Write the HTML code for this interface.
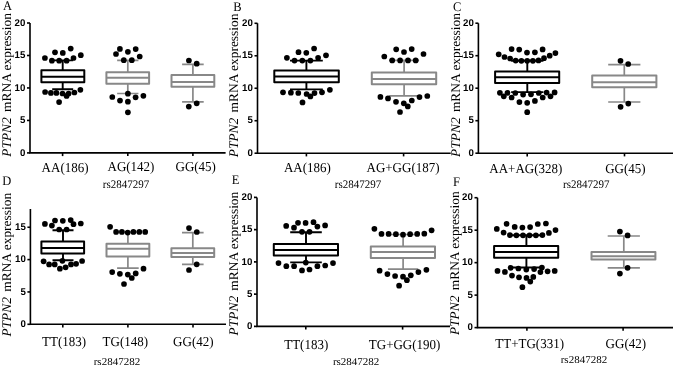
<!DOCTYPE html>
<html><head><meta charset="utf-8"><title>PTPN2 mRNA expression box plots</title>
<style>
html,body{margin:0;padding:0;background:#fff;}
body{width:675px;height:367px;overflow:hidden;}
svg{display:block;will-change:transform;text-rendering:geometricPrecision;}
.ax{stroke:#000;stroke-width:1.6;fill:none;}
.bk rect,.bk path{stroke:#000;stroke-width:2;fill:none;stroke-linejoin:round;}
.gy rect,.gy path{stroke:#888888;stroke-width:2;fill:none;stroke-linejoin:round;}
circle{fill:#000;}
.gy .wk{stroke-width:1.7;}
.bk .wk{stroke-width:1.9;}
.tk{font-family:"Liberation Sans", sans-serif;font-weight:bold;font-size:9.7px;text-anchor:end;fill:#000;}
.xl{font-family:"Liberation Serif", serif;font-size:13px;fill:#000;}
.rs{font-family:"Liberation Serif", serif;font-size:11px;fill:#000;}
.lt{font-family:"Liberation Serif", serif;font-size:12.5px;fill:#000;}
.yl{font-family:"Liberation Serif", serif;font-size:13.2px;fill:#000;text-anchor:middle;}
</style></head>
<body><svg width="675" height="367" viewBox="0 0 675 367">
<rect width="675" height="367" fill="#fff"/>
<g><path d="M30 23V152.9H225.6" class="ax"/><path d="M27 152.9H30" class="ax"/><text x="25.4" y="155.5" class="tk">0</text><path d="M27 120.43H30" class="ax"/><text x="25.4" y="123.03" class="tk">5</text><path d="M27 87.95H30" class="ax"/><text x="25.4" y="90.55" class="tk">10</text><path d="M27 55.48H30" class="ax"/><text x="25.4" y="58.08" class="tk">15</text><path d="M27 23H30" class="ax"/><text x="25.4" y="25.6" class="tk">20</text><path d="M62.6 152.9V156.1" class="ax"/><path d="M127.8 152.9V156.1" class="ax"/><path d="M192.9 152.9V156.1" class="ax"/><g class="bk"><rect x="41.4" y="70.3" width="42.9" height="12"/><path d="M41.4 76.7H84.3"/><path class="wk" d="M62.7 70.3V60.4M52.2 60.4H73.2M62.7 82.3V89.3M52.2 89.3H73.2"/></g><g class="gy"><rect x="106.4" y="72.3" width="42.7" height="11.5"/><path d="M106.4 77.8H149.1"/><path class="wk" d="M127.8 72.3V60.4M117.15 60.4H138.45M127.8 83.8V93.5M117.15 93.5H138.45"/></g><g class="gy"><rect x="171.5" y="75" width="42.8" height="11.8"/><path d="M171.5 82.1H214.3"/><path class="wk" d="M192.9 75V64.3M182.1 64.3H203.7M192.9 86.8V101.9M182.1 101.9H203.7"/></g><circle cx="44.9" cy="58" r="2.85"/><circle cx="55" cy="52.3" r="2.85"/><circle cx="62.8" cy="52.9" r="2.85"/><circle cx="70.7" cy="48.6" r="2.85"/><circle cx="80.8" cy="55.2" r="2.85"/><circle cx="51.9" cy="60.7" r="2.85"/><circle cx="59.2" cy="60.7" r="2.85"/><circle cx="66.6" cy="60.7" r="2.85"/><circle cx="73.5" cy="58" r="2.85"/><circle cx="45.1" cy="92" r="2.85"/><circle cx="50.9" cy="92.9" r="2.85"/><circle cx="56.4" cy="92.9" r="2.85"/><circle cx="62.5" cy="93.5" r="2.85"/><circle cx="66.6" cy="95.9" r="2.85"/><circle cx="68.6" cy="93.5" r="2.85"/><circle cx="74.4" cy="92.5" r="2.85"/><circle cx="80.4" cy="89.8" r="2.85"/><circle cx="59.1" cy="102.1" r="2.85"/><circle cx="119.9" cy="48.9" r="2.85"/><circle cx="135.7" cy="49.1" r="2.85"/><circle cx="127.9" cy="51.8" r="2.85"/><circle cx="116" cy="54" r="2.85"/><circle cx="139.7" cy="56.5" r="2.85"/><circle cx="123.8" cy="60.2" r="2.85"/><circle cx="131.8" cy="60.2" r="2.85"/><circle cx="127.9" cy="93.7" r="2.85"/><circle cx="112.3" cy="97" r="2.85"/><circle cx="120" cy="100.6" r="2.85"/><circle cx="127.9" cy="101.7" r="2.85"/><circle cx="135.6" cy="97.3" r="2.85"/><circle cx="143.4" cy="95.8" r="2.85"/><circle cx="127.9" cy="112.3" r="2.85"/><circle cx="188.9" cy="60.5" r="2.85"/><circle cx="196.7" cy="63.7" r="2.85"/><circle cx="196.7" cy="103.3" r="2.85"/><circle cx="188.8" cy="106.6" r="2.85"/><text transform="translate(41.6 171.5) scale(1 1.05)" class="xl">AA(186)</text><text transform="translate(107.5 171) scale(1 1.05)" class="xl">AG(142)</text><text transform="translate(175.5 171) scale(1 1.05)" class="xl">GG(45)</text><text transform="translate(102.8 187.8) scale(1 1.05)" class="rs">rs2847297</text><text transform="translate(3 9.9) scale(1 1.05)" class="lt">A</text><text transform="translate(10.5 84.9) scale(1 1.02) rotate(-90)" class="yl"><tspan font-style="italic">PTPN2</tspan><tspan dx="1.8"> mRNA expression</tspan></text></g>
<g><path d="M257.5 23.3V153.2H450.7" class="ax"/><path d="M254.5 153.2H257.5" class="ax"/><text x="252.9" y="155.8" class="tk">0</text><path d="M254.5 120.72H257.5" class="ax"/><text x="252.9" y="123.32" class="tk">5</text><path d="M254.5 88.25H257.5" class="ax"/><text x="252.9" y="90.85" class="tk">10</text><path d="M254.5 55.77H257.5" class="ax"/><text x="252.9" y="58.37" class="tk">15</text><path d="M254.5 23.3H257.5" class="ax"/><text x="252.9" y="25.9" class="tk">20</text><path d="M306.4 153.2V156.4" class="ax"/><path d="M403.6 153.2V156.4" class="ax"/><g class="bk"><rect x="274.3" y="70.5" width="64.5" height="11.7"/><path d="M274.3 76.6H338.8"/><path class="wk" d="M306.4 70.5V60.6M290 60.6H322.8M306.4 82.2V89.4M290 89.4H322.8"/></g><g class="gy"><rect x="371.8" y="72.6" width="64.4" height="11.6"/><path d="M371.8 78.9H436.2"/><path class="wk" d="M404.1 72.6V60.4M389.1 60.4H419.1M404.1 84.2V95.8M389.1 95.8H419.1"/></g><circle cx="286.9" cy="57.8" r="2.85"/><circle cx="298.5" cy="52.2" r="2.85"/><circle cx="306.3" cy="52.8" r="2.85"/><circle cx="314.1" cy="48.5" r="2.85"/><circle cx="326" cy="55.3" r="2.85"/><circle cx="294.5" cy="60.6" r="2.85"/><circle cx="302.3" cy="60.6" r="2.85"/><circle cx="310.4" cy="60.6" r="2.85"/><circle cx="318.1" cy="57.8" r="2.85"/><circle cx="283" cy="92.3" r="2.85"/><circle cx="290.9" cy="92.7" r="2.85"/><circle cx="298.3" cy="93" r="2.85"/><circle cx="306.6" cy="94" r="2.85"/><circle cx="310.4" cy="96.4" r="2.85"/><circle cx="314.5" cy="93.1" r="2.85"/><circle cx="322" cy="92.3" r="2.85"/><circle cx="329.9" cy="89.8" r="2.85"/><circle cx="302.5" cy="102.4" r="2.85"/><circle cx="384.3" cy="56.5" r="2.85"/><circle cx="396.2" cy="49.3" r="2.85"/><circle cx="404" cy="52" r="2.85"/><circle cx="411.7" cy="49.1" r="2.85"/><circle cx="423.5" cy="54" r="2.85"/><circle cx="392.2" cy="60.4" r="2.85"/><circle cx="400.1" cy="60.4" r="2.85"/><circle cx="408" cy="60.4" r="2.85"/><circle cx="415.7" cy="60.4" r="2.85"/><circle cx="380.4" cy="96.9" r="2.85"/><circle cx="388" cy="98.4" r="2.85"/><circle cx="396" cy="101.8" r="2.85"/><circle cx="403.8" cy="103.3" r="2.85"/><circle cx="407.8" cy="106.4" r="2.85"/><circle cx="411.8" cy="100.5" r="2.85"/><circle cx="419.5" cy="97.1" r="2.85"/><circle cx="427.3" cy="96" r="2.85"/><circle cx="400" cy="112" r="2.85"/><text transform="translate(283.9 171.5) scale(1 1.05)" class="xl">AA(186)</text><text transform="translate(366.5 171.5) scale(1 1.05)" class="xl">AG+GG(187)</text><text transform="translate(334.8 187.5) scale(1 1.05)" class="rs">rs2847297</text><text transform="translate(233.15 10.7) scale(1 1.05)" class="lt">B</text><text transform="translate(238.3 85.4) scale(1 1.02) rotate(-90)" class="yl"><tspan font-style="italic">PTPN2</tspan><tspan dx="1.8"> mRNA expression</tspan></text></g>
<g><path d="M478.4 23.2V153.2H673" class="ax"/><path d="M475.4 153.2H478.4" class="ax"/><text x="473.8" y="155.8" class="tk">0</text><path d="M475.4 120.7H478.4" class="ax"/><text x="473.8" y="123.3" class="tk">5</text><path d="M475.4 88.2H478.4" class="ax"/><text x="473.8" y="90.8" class="tk">10</text><path d="M475.4 55.7H478.4" class="ax"/><text x="473.8" y="58.3" class="tk">15</text><path d="M475.4 23.2H478.4" class="ax"/><text x="473.8" y="25.8" class="tk">20</text><path d="M527.2 153.2V156.4" class="ax"/><path d="M624.5 153.2V156.4" class="ax"/><g class="bk"><rect x="495.1" y="71.4" width="64.1" height="11.5"/><path d="M495.1 77.3H559.2"/><path class="wk" d="M527.3 71.4V60.8M511.15 60.8H543.45M527.3 82.9V92.1M511.15 92.1H543.45"/></g><g class="gy"><rect x="592.2" y="75.6" width="64.2" height="11.7"/><path d="M592.2 82.2H656.4"/><path class="wk" d="M624.3 75.6V64.7M608.2 64.7H640.4M624.3 87.3V102M608.2 102H640.4"/></g><circle cx="511.6" cy="49.1" r="2.85"/><circle cx="519.2" cy="49.6" r="2.85"/><circle cx="527" cy="52.6" r="2.85"/><circle cx="534.9" cy="52.3" r="2.85"/><circle cx="542.6" cy="49.4" r="2.85"/><circle cx="498.7" cy="54.3" r="2.85"/><circle cx="504.5" cy="57" r="2.85"/><circle cx="510.1" cy="58.5" r="2.85"/><circle cx="515.7" cy="60.6" r="2.85"/><circle cx="521.4" cy="60.8" r="2.85"/><circle cx="527.2" cy="60.8" r="2.85"/><circle cx="532.9" cy="60.8" r="2.85"/><circle cx="538.5" cy="60.4" r="2.85"/><circle cx="544" cy="58.2" r="2.85"/><circle cx="549.7" cy="55.7" r="2.85"/><circle cx="555.4" cy="53.1" r="2.85"/><circle cx="499.9" cy="92.8" r="2.85"/><circle cx="507.5" cy="92.8" r="2.85"/><circle cx="515.3" cy="93" r="2.85"/><circle cx="523.1" cy="94.6" r="2.85"/><circle cx="531" cy="94.3" r="2.85"/><circle cx="538.8" cy="93" r="2.85"/><circle cx="546.6" cy="92.6" r="2.85"/><circle cx="554.6" cy="92.4" r="2.85"/><circle cx="503.8" cy="96.3" r="2.85"/><circle cx="511.6" cy="97.5" r="2.85"/><circle cx="542.7" cy="97.5" r="2.85"/><circle cx="550.5" cy="96.3" r="2.85"/><circle cx="519.4" cy="102.1" r="2.85"/><circle cx="527.2" cy="102.8" r="2.85"/><circle cx="534.9" cy="100.9" r="2.85"/><circle cx="527.2" cy="112.2" r="2.85"/><circle cx="620.5" cy="60.8" r="2.85"/><circle cx="628.2" cy="64" r="2.85"/><circle cx="628.3" cy="103.6" r="2.85"/><circle cx="620.6" cy="106.8" r="2.85"/><text transform="translate(489.3 172.6) scale(1 1.05)" class="xl">AA+AG(328)</text><text transform="translate(605.2 173) scale(1 1.05)" class="xl">GG(45)</text><text transform="translate(563 188.2) scale(1 1.05)" class="rs">rs2847297</text><text transform="translate(452.95 10.55) scale(1 1.05)" class="lt">C</text><text transform="translate(460.3 85) scale(1 1.02) rotate(-90)" class="yl"><tspan font-style="italic">PTPN2</tspan><tspan dx="1.8"> mRNA expression</tspan></text></g>
<g><path d="M30.4 208.9V324.3H226" class="ax"/><path d="M27.4 324.3H30.4" class="ax"/><text x="25.8" y="326.9" class="tk">0</text><path d="M27.4 291.95H30.4" class="ax"/><text x="25.8" y="294.55" class="tk">5</text><path d="M27.4 259.6H30.4" class="ax"/><text x="25.8" y="262.2" class="tk">10</text><path d="M27.4 227.25H30.4" class="ax"/><text x="25.8" y="229.85" class="tk">15</text><path d="M62.8 324.3V327.5" class="ax"/><path d="M127.9 324.3V327.5" class="ax"/><path d="M193 324.3V327.5" class="ax"/><g class="bk"><rect x="41.4" y="241.6" width="42.7" height="11.8"/><path d="M41.4 248H84.1"/><path class="wk" d="M63 241.6V230.2M52.5 230.2H73.5M63 253.4V260.3M52.5 260.3H73.5"/></g><g class="gy"><rect x="106.5" y="243.7" width="42.8" height="12.8"/><path d="M106.5 248.7H149.3"/><path class="wk" d="M127.9 243.7V232M117.1 232H138.7M127.9 256.5V268.1M117.1 268.1H138.7"/></g><g class="gy"><rect x="171.4" y="248.2" width="42.8" height="8.7"/><path d="M171.4 253H214.2"/><path class="wk" d="M192.8 248.2V232.7M182 232.7H203.6M192.8 256.9V264.3M182 264.3H203.6"/></g><circle cx="44.9" cy="223.9" r="2.85"/><circle cx="51.9" cy="225.6" r="2.85"/><circle cx="55" cy="220.5" r="2.85"/><circle cx="62.8" cy="220.8" r="2.85"/><circle cx="70.7" cy="220.1" r="2.85"/><circle cx="73.5" cy="224.2" r="2.85"/><circle cx="80.8" cy="223.5" r="2.85"/><circle cx="59.2" cy="229.5" r="2.85"/><circle cx="66.6" cy="229.5" r="2.85"/><circle cx="43.6" cy="261.3" r="2.85"/><circle cx="49.1" cy="264.4" r="2.85"/><circle cx="54.7" cy="264.4" r="2.85"/><circle cx="62.4" cy="260.8" r="2.85"/><circle cx="59.9" cy="268.7" r="2.85"/><circle cx="65.6" cy="267.3" r="2.85"/><circle cx="71" cy="264.4" r="2.85"/><circle cx="76.1" cy="263.8" r="2.85"/><circle cx="82.1" cy="261" r="2.85"/><circle cx="110.1" cy="226.8" r="2.85"/><circle cx="116.1" cy="231.9" r="2.85"/><circle cx="121.9" cy="231.9" r="2.85"/><circle cx="127.7" cy="232.6" r="2.85"/><circle cx="133.4" cy="231.9" r="2.85"/><circle cx="139.3" cy="231.9" r="2.85"/><circle cx="145.2" cy="231.9" r="2.85"/><circle cx="112.2" cy="272.1" r="2.85"/><circle cx="119.9" cy="273.8" r="2.85"/><circle cx="127.8" cy="274.6" r="2.85"/><circle cx="131.8" cy="278" r="2.85"/><circle cx="135.7" cy="273.4" r="2.85"/><circle cx="143.5" cy="268.7" r="2.85"/><circle cx="124" cy="284" r="2.85"/><circle cx="189" cy="228.1" r="2.85"/><circle cx="196.8" cy="232" r="2.85"/><circle cx="196.7" cy="264.3" r="2.85"/><circle cx="189" cy="270" r="2.85"/><text transform="translate(42 346.3) scale(1 1.05)" class="xl">TT(183)</text><text transform="translate(102.6 346.3) scale(1 1.05)" class="xl">TG(148)</text><text transform="translate(173.1 346.3) scale(1 1.05)" class="xl">GG(42)</text><text transform="translate(93.7 365.4) scale(1 0.95)" class="rs">rs2847282</text><text transform="translate(2.2 185.45) scale(1 1.05)" class="lt">D</text><text transform="translate(10.9 264.7) scale(1 1.02) rotate(-90)" class="yl"><tspan font-style="italic">PTPN2</tspan><tspan dx="1.8"> mRNA expression</tspan></text></g>
<g><path d="M257 197.4V326.4H450" class="ax"/><path d="M254 326.4H257" class="ax"/><text x="252.4" y="329" class="tk">0</text><path d="M254 294.15H257" class="ax"/><text x="252.4" y="296.75" class="tk">5</text><path d="M254 261.9H257" class="ax"/><text x="252.4" y="264.5" class="tk">10</text><path d="M254 229.65H257" class="ax"/><text x="252.4" y="232.25" class="tk">15</text><path d="M254 197.4H257" class="ax"/><text x="252.4" y="200" class="tk">20</text><path d="M305.8 326.4V329.6" class="ax"/><path d="M402.6 326.4V329.6" class="ax"/><g class="bk"><rect x="273.8" y="244.1" width="64.2" height="11.5"/><path d="M273.8 250.1H338"/><path class="wk" d="M306 244.1V232.3M290.2 232.3H321.8M306 255.6V262.4M290.2 262.4H321.8"/></g><g class="gy"><rect x="370.8" y="246.4" width="64.2" height="11.6"/><path d="M370.8 252H435"/><path class="wk" d="M403.1 246.4V234.5M387.95 234.5H418.25M403.1 258V269.2M387.95 269.2H418.25"/></g><circle cx="286.2" cy="225.9" r="2.85"/><circle cx="294" cy="227.7" r="2.85"/><circle cx="298" cy="222.8" r="2.85"/><circle cx="305.6" cy="222.9" r="2.85"/><circle cx="313.5" cy="222.2" r="2.85"/><circle cx="317.4" cy="226.6" r="2.85"/><circle cx="325.1" cy="225.4" r="2.85"/><circle cx="302" cy="231.8" r="2.85"/><circle cx="309.5" cy="231.8" r="2.85"/><circle cx="278.5" cy="263.1" r="2.85"/><circle cx="286.3" cy="266.2" r="2.85"/><circle cx="294.1" cy="266.2" r="2.85"/><circle cx="305.8" cy="262.6" r="2.85"/><circle cx="302" cy="270.4" r="2.85"/><circle cx="309.5" cy="269.5" r="2.85"/><circle cx="317.4" cy="266.2" r="2.85"/><circle cx="325.2" cy="265.5" r="2.85"/><circle cx="333" cy="263.1" r="2.85"/><circle cx="374.4" cy="228.8" r="2.85"/><circle cx="381.5" cy="233.9" r="2.85"/><circle cx="388.6" cy="233.9" r="2.85"/><circle cx="395.9" cy="234.2" r="2.85"/><circle cx="403" cy="234.7" r="2.85"/><circle cx="410.1" cy="234.2" r="2.85"/><circle cx="417.2" cy="233.9" r="2.85"/><circle cx="424.3" cy="233.7" r="2.85"/><circle cx="431.6" cy="230.3" r="2.85"/><circle cx="379.6" cy="270.7" r="2.85"/><circle cx="387.4" cy="274.1" r="2.85"/><circle cx="395.1" cy="276" r="2.85"/><circle cx="403" cy="276.7" r="2.85"/><circle cx="406.9" cy="280.2" r="2.85"/><circle cx="410.8" cy="275.3" r="2.85"/><circle cx="418.4" cy="272.1" r="2.85"/><circle cx="426.4" cy="269.8" r="2.85"/><circle cx="399.1" cy="285.7" r="2.85"/><text transform="translate(284.2 348.9) scale(1 1.05)" class="xl">TT(183)</text><text transform="translate(368.8 348.9) scale(1 1.05)" class="xl">TG+GG(190)</text><text transform="translate(332.9 365.2) scale(1 0.95)" class="rs">rs2847282</text><text transform="translate(231.75 184.45) scale(1 1.05)" class="lt">E</text><text transform="translate(238.4 263.6) scale(1 1.02) rotate(-90)" class="yl"><tspan font-style="italic">PTPN2</tspan><tspan dx="1.8"> mRNA expression</tspan></text></g>
<g><path d="M477.5 197.7V327.6H673" class="ax"/><path d="M474.5 327.6H477.5" class="ax"/><text x="472.9" y="330.2" class="tk">0</text><path d="M474.5 295.12H477.5" class="ax"/><text x="472.9" y="297.73" class="tk">5</text><path d="M474.5 262.65H477.5" class="ax"/><text x="472.9" y="265.25" class="tk">10</text><path d="M474.5 230.18H477.5" class="ax"/><text x="472.9" y="232.78" class="tk">15</text><path d="M474.5 197.7H477.5" class="ax"/><text x="472.9" y="200.3" class="tk">20</text><path d="M526.9 327.6V330.8" class="ax"/><path d="M623.1 327.6V330.8" class="ax"/><g class="bk"><rect x="494.1" y="246.1" width="64.1" height="11.7"/><path d="M494.1 252H558.2"/><path class="wk" d="M526.4 246.1V235.3M510.4 235.3H542.4M526.4 257.8V267.5M510.4 267.5H542.4"/></g><g class="gy"><rect x="591.5" y="252" width="63.9" height="7.6"/><path d="M591.5 256.3H655.4"/><path class="wk" d="M623.8 252V236M607.7 236H639.9M623.8 259.6V267.8M607.7 267.8H639.9"/></g><circle cx="506.6" cy="223.8" r="2.85"/><circle cx="514.7" cy="226.9" r="2.85"/><circle cx="522.4" cy="227.6" r="2.85"/><circle cx="530.1" cy="227.1" r="2.85"/><circle cx="537.8" cy="224" r="2.85"/><circle cx="545.9" cy="223.5" r="2.85"/><circle cx="496.8" cy="228.9" r="2.85"/><circle cx="503.6" cy="232.6" r="2.85"/><circle cx="509.9" cy="235.1" r="2.85"/><circle cx="516.4" cy="235.3" r="2.85"/><circle cx="523" cy="235.3" r="2.85"/><circle cx="529.5" cy="235.3" r="2.85"/><circle cx="535.9" cy="235.3" r="2.85"/><circle cx="542.4" cy="235.1" r="2.85"/><circle cx="548.9" cy="232.9" r="2.85"/><circle cx="555.5" cy="230.1" r="2.85"/><circle cx="497.5" cy="270.9" r="2.85"/><circle cx="504.9" cy="271.9" r="2.85"/><circle cx="510.6" cy="267.8" r="2.85"/><circle cx="518.4" cy="268.5" r="2.85"/><circle cx="526.3" cy="269.6" r="2.85"/><circle cx="534.1" cy="269.1" r="2.85"/><circle cx="541.9" cy="267.5" r="2.85"/><circle cx="540.4" cy="272.1" r="2.85"/><circle cx="547.6" cy="271.3" r="2.85"/><circle cx="554.7" cy="270.9" r="2.85"/><circle cx="512" cy="275.6" r="2.85"/><circle cx="519" cy="277.3" r="2.85"/><circle cx="526.5" cy="277.9" r="2.85"/><circle cx="533.3" cy="276.9" r="2.85"/><circle cx="530.3" cy="281.6" r="2.85"/><circle cx="522.4" cy="287.2" r="2.85"/><circle cx="619.9" cy="231.6" r="2.85"/><circle cx="627.6" cy="235.4" r="2.85"/><circle cx="627.6" cy="267.8" r="2.85"/><circle cx="619.9" cy="273.6" r="2.85"/><text transform="translate(495.3 348.2) scale(1 1.05)" class="xl">TT+TG(331)</text><text transform="translate(605.6 348.2) scale(1 1.05)" class="xl">GG(42)</text><text transform="translate(560.7 363) scale(1 0.95)" class="rs">rs2847282</text><text transform="translate(453.1 186.35) scale(1 1.05)" class="lt">F</text><text transform="translate(458.8 263.2) scale(1 1.02) rotate(-90)" class="yl"><tspan font-style="italic">PTPN2</tspan><tspan dx="1.8"> mRNA expression</tspan></text></g>
</svg></body></html>
